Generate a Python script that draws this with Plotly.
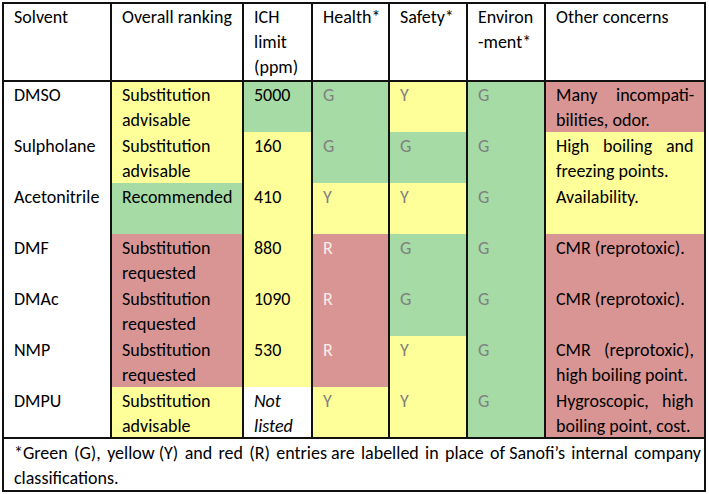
import plotly.graph_objects as go

# ---------------- data ----------------
headers = ["Solvent", "Overall ranking", "ICH\nlimit\n(ppm)", "Health*", "Safety*", "Environ\n-ment*", "Other concerns"]
solvents = ["DMSO", "Sulpholane", "Acetonitrile", "DMF", "DMAc", "NMP", "DMPU"]
ranking = ["Substitution\nadvisable", "Substitution\nadvisable", "Recommended",
           "Substitution\nrequested", "Substitution\nrequested", "Substitution\nrequested",
           "Substitution\nadvisable"]
ranking_class = ["Y", "Y", "G", "R", "R", "R", "Y"]
ich_limit = ["5000", "160", "410", "880", "1090", "530", "<i>Not</i>\n<i>listed</i>"]
ich_class = ["G", "Y", "Y", "Y", "Y", "Y", "W"]
health = ["G", "G", "Y", "R", "R", "R", "Y"]
safety = ["Y", "G", "Y", "G", "G", "Y", "Y"]
environment = ["G", "G", "G", "G", "G", "G", "G"]
other = ["Many incompati-\nbilities, odor.", "High boiling and\nfreezing points.", "Availability.",
         "CMR (reprotoxic).", "CMR (reprotoxic).", "CMR (reprotoxic),\nhigh boiling point.",
         "Hygroscopic, high\nboiling point, cost."]
other_class = ["R", "Y", "Y", "R", "R", "R", "R"]
footnote = ["*Green (G), yellow (Y) and red (R) entries are labelled in place of Sanofi\u2019s internal company",
            "classifications."]

# ---------------- layout / style ----------------
W, H = 709, 494
col_edges = [3, 111, 243, 312, 389, 467, 545, 705]
header_h, row_h, foot_h = 78, 51, 53
top = 3
FONT = "Carlito, Lato, sans-serif"
FS = 18
PAD_X, FIRST_LINE, LINE_SP = 9, 14, 25
COLORS = {"W": "#ffffff", "G": "#a6dba6", "Y": "#ffff99", "R": "#d99594"}
CODE = {"W": 0, "G": 1, "Y": 2, "R": 3}
BORDER = "#111111"

n = len(solvents)
row_edges = [top, top + header_h] + [top + header_h + row_h * (i + 1) for i in range(n)]
row_edges.append(row_edges[-1] + foot_h)

columns_classes = [["W"] * n, ranking_class, ich_class, health, safety, environment, other_class]
z = [[0] * 7]  # header
for i in range(n):
    z.append([CODE[columns_classes[c][i]] for c in range(7)])
z.append([0] * 7)  # footnote row

cs = [[0, COLORS["W"]], [1/6, COLORS["W"]], [1/6, COLORS["G"]], [0.5, COLORS["G"]],
      [0.5, COLORS["Y"]], [5/6, COLORS["Y"]], [5/6, COLORS["R"]], [1, COLORS["R"]]]

fig = go.Figure(go.Heatmap(z=z, x=col_edges, y=row_edges, colorscale=cs, zmin=0, zmax=3,
                           showscale=False, hoverinfo="skip"))

annotations = []


def char_w(ch):
    if ch in "ijl.,'\u2019:;|!":
        return 0.23
    if ch in "frt()-I ":
        return 0.31
    if ch in "mwMW":
        return 0.83
    if ch.isupper():
        return 0.64
    if ch.isdigit():
        return 0.58
    return 0.51


def text_w(s):
    return sum(char_w(c) for c in s) * FS


def add_text(x, y, text, color="#000000", anchor="left"):
    annotations.append(dict(x=x, y=y, xref="x", yref="y", text=text, showarrow=False,
                            xanchor=anchor, yanchor="middle",
                            font=dict(family=FONT, size=FS, color=color)))


def justify_line(left, right, y, line, color="#000000"):
    words = line.split(" ")
    widths = [text_w(w) for w in words]
    gap = (right - left - sum(widths)) / (len(words) - 1)
    xpos = left
    for j, w in enumerate(words):
        if j == 0:
            add_text(left, y, w, color, "left")
        elif j == len(words) - 1:
            add_text(right, y, w, color, "right")
        else:
            add_text(xpos + widths[j] / 2, y, w, color, "center")
        xpos += widths[j] + gap


def place_lines(c, r_top, text, color="#000000", justify=False):
    left = col_edges[c] + PAD_X
    right = col_edges[c + 1] - PAD_X
    lines = text.split("\n")
    for k, line in enumerate(lines):
        y = r_top + FIRST_LINE + LINE_SP * k
        if justify and k < len(lines) - 1 and " " in line:
            justify_line(left, right, y, line, color)
        else:
            add_text(left, y, line, color)


for c, h in enumerate(headers):
    place_lines(c, row_edges[0], h)

letter_color = {"G": "#808080", "Y": "#808080", "R": "#f7eded"}
for i in range(n):
    rt = row_edges[i + 1]
    place_lines(0, rt, solvents[i])
    place_lines(1, rt, ranking[i])
    place_lines(2, rt, ich_limit[i])
    place_lines(3, rt, health[i], letter_color[health[i]])
    place_lines(4, rt, safety[i], letter_color[safety[i]])
    place_lines(5, rt, environment[i], letter_color[environment[i]])
    place_lines(6, rt, other[i], justify=True)

foot_left = col_edges[0] + PAD_X
for k, line in enumerate(footnote):
    y = row_edges[-2] + FIRST_LINE + 1 + LINE_SP * k
    if k < len(footnote) - 1:
        # justified line: widen most word gaps slightly
        words = line.split(" ")
        line = words[0]
        for j, w in enumerate(words[1:]):
            line += (" " if j % 5 == 2 else " \u200a") + w
    add_text(foot_left, y, line)

shapes = []
for xe in col_edges[1:-1]:
    shapes.append(dict(type="line", xref="x", yref="y", x0=xe, x1=xe, y0=row_edges[0], y1=row_edges[-2],
                       line=dict(color=BORDER, width=2)))
for ye in [row_edges[1], row_edges[-2]]:
    shapes.append(dict(type="line", xref="x", yref="y", x0=col_edges[0], x1=col_edges[-1], y0=ye, y1=ye,
                       line=dict(color=BORDER, width=2)))
shapes.append(dict(type="rect", xref="x", yref="y", x0=col_edges[0], x1=col_edges[-1],
                   y0=row_edges[0], y1=row_edges[-1], line=dict(color=BORDER, width=2)))

fig.update_layout(
    width=W, height=H, margin=dict(l=0, r=0, t=0, b=0),
    paper_bgcolor="white", plot_bgcolor="white",
    xaxis=dict(range=[0, W], visible=False, fixedrange=True),
    yaxis=dict(range=[H, 0], visible=False, fixedrange=True),
    annotations=annotations, shapes=shapes, showlegend=False,
)
fig.write_html("out.html", config={"displayModeBar": False},
               post_script="document.body.style.margin='0';document.body.style.overflow='hidden';")
